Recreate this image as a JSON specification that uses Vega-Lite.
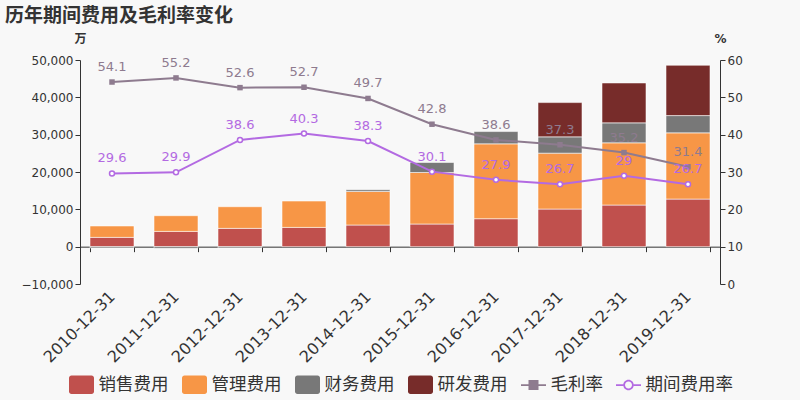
{
  "$schema": "https://vega.github.io/schema/vega-lite/v6.json",
  "width": 640,
  "height": 224,
  "autosize": {"type": "none"},
  "padding": {"left": 80, "top": 60, "right": 80, "bottom": 116},
  "background": "#f8f8f8",
  "config": {
    "font": "DejaVu Sans",
    "view": {"stroke": null},
    "axis": {"grid": false, "labelColor": "#333333", "domainColor": "#333333", "tickColor": "#333333", "labelFontSize": 12, "tickSize": 5, "titleColor": "#333333"}
  },
  "title": {
    "text": "历年期间费用及毛利率变化",
    "anchor": "start",
    "frame": "group",
    "dx": -75,
    "offset": -13,
    "baseline": "bottom",
    "fontSize": 19,
    "fontWeight": "bold",
    "color": "#333333",
    "font": "Noto Sans CJK SC"
  },
  "datasets": {
    "costs": [
      {"date": "2010-12-31", "type": "销售费用", "value": 2490},
      {"date": "2010-12-31", "type": "管理费用", "value": 3050},
      {"date": "2010-12-31", "type": "财务费用", "value": -350},
      {"date": "2011-12-31", "type": "销售费用", "value": 4090},
      {"date": "2011-12-31", "type": "管理费用", "value": 4200},
      {"date": "2011-12-31", "type": "财务费用", "value": -450},
      {"date": "2012-12-31", "type": "销售费用", "value": 4900},
      {"date": "2012-12-31", "type": "管理费用", "value": 5800},
      {"date": "2012-12-31", "type": "财务费用", "value": -350},
      {"date": "2013-12-31", "type": "销售费用", "value": 5160},
      {"date": "2013-12-31", "type": "管理费用", "value": 7060},
      {"date": "2014-12-31", "type": "销售费用", "value": 5800},
      {"date": "2014-12-31", "type": "管理费用", "value": 8990},
      {"date": "2014-12-31", "type": "财务费用", "value": 450},
      {"date": "2015-12-31", "type": "销售费用", "value": 6070},
      {"date": "2015-12-31", "type": "管理费用", "value": 13800},
      {"date": "2015-12-31", "type": "财务费用", "value": 2670},
      {"date": "2016-12-31", "type": "销售费用", "value": 7490},
      {"date": "2016-12-31", "type": "管理费用", "value": 20050},
      {"date": "2016-12-31", "type": "财务费用", "value": 3290},
      {"date": "2017-12-31", "type": "销售费用", "value": 10080},
      {"date": "2017-12-31", "type": "管理费用", "value": 14970},
      {"date": "2017-12-31", "type": "财务费用", "value": 4360},
      {"date": "2017-12-31", "type": "研发费用", "value": 9180},
      {"date": "2018-12-31", "type": "销售费用", "value": 11150},
      {"date": "2018-12-31", "type": "管理费用", "value": 16660},
      {"date": "2018-12-31", "type": "财务费用", "value": 5350},
      {"date": "2018-12-31", "type": "研发费用", "value": 10690},
      {"date": "2019-12-31", "type": "销售费用", "value": 12750},
      {"date": "2019-12-31", "type": "管理费用", "value": 17730},
      {"date": "2019-12-31", "type": "财务费用", "value": 4630},
      {"date": "2019-12-31", "type": "研发费用", "value": 13480}
    ],
    "rates": [
      {"date": "2010-12-31", "type": "毛利率", "rate": 54.1},
      {"date": "2011-12-31", "type": "毛利率", "rate": 55.2},
      {"date": "2012-12-31", "type": "毛利率", "rate": 52.6},
      {"date": "2013-12-31", "type": "毛利率", "rate": 52.7},
      {"date": "2014-12-31", "type": "毛利率", "rate": 49.7},
      {"date": "2015-12-31", "type": "毛利率", "rate": 42.8},
      {"date": "2016-12-31", "type": "毛利率", "rate": 38.6},
      {"date": "2017-12-31", "type": "毛利率", "rate": 37.3},
      {"date": "2018-12-31", "type": "毛利率", "rate": 35.2},
      {"date": "2019-12-31", "type": "毛利率", "rate": 31.4},
      {"date": "2010-12-31", "type": "期间费用率", "rate": 29.6},
      {"date": "2011-12-31", "type": "期间费用率", "rate": 29.9},
      {"date": "2012-12-31", "type": "期间费用率", "rate": 38.6},
      {"date": "2013-12-31", "type": "期间费用率", "rate": 40.3},
      {"date": "2014-12-31", "type": "期间费用率", "rate": 38.3},
      {"date": "2015-12-31", "type": "期间费用率", "rate": 30.1},
      {"date": "2016-12-31", "type": "期间费用率", "rate": 27.9},
      {"date": "2017-12-31", "type": "期间费用率", "rate": 26.7},
      {"date": "2018-12-31", "type": "期间费用率", "rate": 29},
      {"date": "2019-12-31", "type": "期间费用率", "rate": 26.7}
    ]
  },
  "encoding": {
    "x": {
      "field": "date",
      "type": "nominal",
      "scale": {"paddingInner": 0.3125, "paddingOuter": 0.15625},
      "axis": {
        "orient": "bottom",
        "offset": -37.33,
        "title": null,
        "labelAngle": -45,
        "labelAlign": "right",
        "labelBaseline": "middle",
        "labelPadding": 42,
        "labelDx": 6,
        "labelFontSize": 16,
        "tickBand": "extent",
        "tickSize": 5
      }
    }
  },
  "layer": [
    {
      "data": {"name": "costs"},
      "transform": [
        {"calculate": "indexof(['销售费用','管理费用','财务费用','研发费用'], datum.type)", "as": "ord"}
      ],
      "mark": {"type": "bar", "stroke": "#ffffff", "strokeOpacity": 0.55, "strokeWidth": 1},
      "encoding": {
        "y": {
          "field": "value",
          "type": "quantitative",
          "stack": "zero",
          "scale": {"domain": [-10000, 50000], "nice": false, "zero": false},
          "axis": {
            "orient": "left",
            "values": [-10000, 0, 10000, 20000, 30000, 40000, 50000],
            "format": ",.0f",
            "title": "万",
            "titleAngle": 0,
            "titleX": 0,
            "titleY": -22,
            "titleAlign": "center",
            "titleBaseline": "middle",
            "titleFontSize": 12,
            "titleFontWeight": "bold",
            "titleFont": "Noto Sans CJK SC"
          }
        },
        "order": {"field": "ord", "type": "quantitative"},
        "color": {
          "field": "type",
          "type": "nominal",
          "scale": {
            "domain": ["销售费用", "管理费用", "财务费用", "研发费用", "毛利率", "期间费用率"],
            "range": ["#c0504d", "#f79646", "#787878", "#772c2a", "#8e7b8f", "#b36ae2"]
          },
          "legend": {
            "orient": "none",
            "legendX": -11,
            "legendY": 312,
            "direction": "horizontal",
            "title": null,
            "labelFontSize": 17.5,
            "labelFont": "Noto Sans CJK SC",
            "labelColor": "#333333",
            "symbolSize": 625,
            "symbolOpacity": 1,
            "symbolStrokeWidth": 0,
            "labelOffset": 4.5,
            "columnPadding": 13
          }
        }
      }
    },
    {
      "data": {"name": "rates"},
      "encoding": {
        "y": {
          "field": "rate",
          "type": "quantitative",
          "scale": {"domain": [0, 60], "nice": false},
          "axis": {
            "orient": "right",
            "values": [0, 10, 20, 30, 40, 50, 60],
            "title": "%",
            "titleAngle": 0,
            "titleX": 0,
            "titleY": -22,
            "titleAlign": "center",
            "titleBaseline": "middle",
            "titleFontSize": 12,
            "titleFontWeight": "bold"
          }
        }
      },
      "layer": [
        {
          "mark": {"type": "line", "strokeWidth": 2},
          "encoding": {"color": {"field": "type", "type": "nominal", "legend": null}}
        },
        {
          "transform": [{"filter": "datum.type === '毛利率'"}],
          "mark": {"type": "square", "size": 30, "color": "#8e7b8f", "opacity": 1, "filled": true}
        },
        {
          "transform": [{"filter": "datum.type === '期间费用率'"}],
          "mark": {"type": "point", "shape": "circle", "size": 25, "fill": "#ffffff", "stroke": "#b36ae2", "strokeWidth": 1.5, "opacity": 1}
        },
        {
          "mark": {"type": "point", "filled": true, "opacity": 0},
          "encoding": {
            "shape": {
              "field": "type",
              "type": "nominal",
              "scale": {
                "domain": ["销售费用", "管理费用", "财务费用", "研发费用", "毛利率", "期间费用率"],
                "range": [
                  "M-0.8,-0.74H0.8A0.2,0.2 0 0 1 1,-0.54V0.54A0.2,0.2 0 0 1 0.8,0.74H-0.8A0.2,0.2 0 0 1 -1,0.54V-0.54A0.2,0.2 0 0 1 -0.8,-0.74Z",
                  "M-0.8,-0.74H0.8A0.2,0.2 0 0 1 1,-0.54V0.54A0.2,0.2 0 0 1 0.8,0.74H-0.8A0.2,0.2 0 0 1 -1,0.54V-0.54A0.2,0.2 0 0 1 -0.8,-0.74Z",
                  "M-0.8,-0.74H0.8A0.2,0.2 0 0 1 1,-0.54V0.54A0.2,0.2 0 0 1 0.8,0.74H-0.8A0.2,0.2 0 0 1 -1,0.54V-0.54A0.2,0.2 0 0 1 -0.8,-0.74Z",
                  "M-0.8,-0.74H0.8A0.2,0.2 0 0 1 1,-0.54V0.54A0.2,0.2 0 0 1 0.8,0.74H-0.8A0.2,0.2 0 0 1 -1,0.54V-0.54A0.2,0.2 0 0 1 -0.8,-0.74Z",
                  "M-1,-0.07H1V0.07H-1Z M-0.4,-0.4H0.4V0.4H-0.4Z",
                  "M-1,-0.07H-0.42V0.07H-1Z M0.42,-0.07H1V0.07H0.42Z M0.42,0A0.42,0.42 0 1 0 -0.42,0A0.42,0.42 0 1 0 0.42,0Z M0.28,0A0.28,0.28 0 1 1 -0.28,0A0.28,0.28 0 1 1 0.28,0Z"
                ]
              },
              "legend": {
                "orient": "none",
                "legendX": -11,
                "legendY": 312,
                "direction": "horizontal",
                "title": null,
                "labelFontSize": 17.5,
                "labelFont": "Noto Sans CJK SC",
                "labelColor": "#333333",
                "symbolSize": 625,
                "symbolOpacity": 1,
                "symbolStrokeWidth": 0,
                "labelOffset": 4.5,
                "columnPadding": 13
              }
            }
          }
        },
        {
          "mark": {"type": "text", "dy": -15, "fontSize": 13, "baseline": "middle"},
          "encoding": {
            "text": {"field": "rate", "type": "quantitative"},
            "color": {"field": "type", "type": "nominal", "legend": null}
          }
        }
      ]
    }
  ],
  "resolve": {"scale": {"y": "independent"}}
}
